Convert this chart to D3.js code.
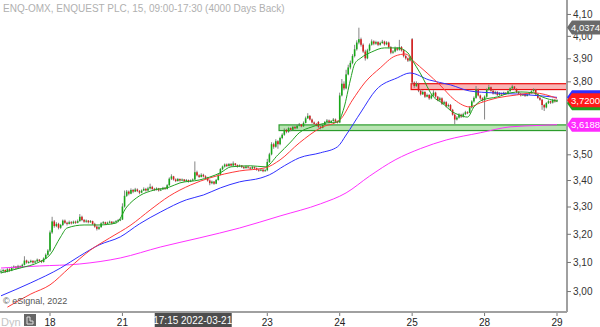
<!DOCTYPE html>
<html>
<head>
<meta charset="utf-8">
<script src="https://cdn.jsdelivr.net/npm/d3@7"></script>
<style>
body { margin: 0; background: #fff; }
svg { display: block; font-family: Arial, "Liberation Sans", sans-serif; }
</style>
</head>
<body>
<div id="chart-area"></div>
<script>
// trading days shown, with how many 15 min bars of each are visible
const dayLabels = ['17', '18', '21', '22', '23', '24', '25', '28', '29'];
const dayBars = [23, 34, 34, 34, 34, 34, 34, 34, 1];

// bars as [open, high, low, close] in thousandths
const day17 = [[3064,3074,3060,3068],[3068,3076,3064,3072],[3072,3074,3062,3066],[3066,3079,3064,3075],[3075,3078,3066,3070],
  [3070,3084,3068,3080],[3080,3088,3076,3084],[3084,3086,3074,3078],[3078,3090,3076,3086],[3086,3088,3078,3082],
  [3082,3094,3080,3090],[3090,3120,3088,3105],[3105,3108,3094,3098],[3098,3104,3094,3100],[3100,3108,3096,3104],
  [3104,3106,3094,3098],[3098,3106,3096,3102],[3102,3112,3100,3108],[3108,3110,3100,3104],[3104,3106,3096,3100],
  [3100,3116,3098,3112],[3112,3130,3110,3125],[3125,3145,3122,3140]];
const day18 = [[3140,3212,3135,3205],[3205,3262,3200,3245],[3245,3250,3222,3228],[3228,3242,3224,3236],[3236,3240,3216,3222],
  [3222,3236,3218,3232],[3232,3252,3228,3248],[3248,3252,3236,3240],[3240,3244,3230,3236],[3236,3248,3234,3242],
  [3242,3246,3234,3238],[3238,3248,3236,3244],[3244,3248,3236,3240],[3240,3252,3238,3246],[3246,3272,3244,3262],
  [3262,3266,3246,3250],[3250,3254,3240,3244],[3244,3252,3240,3248],[3248,3250,3238,3242],[3242,3250,3240,3246],
  [3246,3248,3232,3236],[3236,3240,3222,3226],[3226,3230,3212,3218],[3218,3228,3214,3224],[3224,3242,3222,3238],
  [3238,3246,3234,3242],[3242,3244,3232,3236],[3236,3244,3234,3240],[3240,3248,3238,3244],[3244,3246,3234,3238],
  [3238,3246,3236,3242],[3242,3250,3240,3246],[3246,3254,3242,3250],[3250,3256,3246,3252]];
const day21 = [[3252,3312,3250,3300],[3300,3360,3296,3340],[3340,3362,3336,3356],[3356,3360,3342,3348],[3348,3368,3346,3362],
  [3362,3366,3350,3356],[3356,3370,3354,3364],[3364,3368,3354,3358],[3358,3362,3346,3352],[3352,3364,3350,3360],
  [3360,3372,3358,3366],[3366,3370,3356,3360],[3360,3374,3358,3368],[3368,3386,3364,3374],[3374,3378,3362,3366],
  [3366,3370,3358,3362],[3362,3372,3360,3368],[3368,3370,3356,3360],[3360,3368,3358,3364],[3364,3374,3362,3370],
  [3370,3372,3362,3366],[3366,3384,3364,3380],[3380,3410,3378,3405],[3405,3422,3400,3414],[3414,3416,3398,3402],
  [3402,3406,3392,3396],[3396,3408,3394,3404],[3404,3406,3394,3398],[3398,3406,3396,3402],[3402,3404,3392,3396],
  [3396,3404,3394,3400],[3400,3402,3390,3394],[3394,3402,3392,3398],[3398,3406,3396,3402]];
const day22 = [[3402,3472,3400,3430],[3430,3436,3414,3418],[3418,3422,3408,3412],[3412,3426,3410,3420],[3420,3424,3410,3414],
  [3414,3418,3404,3408],[3408,3412,3394,3398],[3398,3402,3380,3388],[3388,3398,3384,3394],[3394,3396,3382,3386],
  [3386,3404,3384,3400],[3400,3424,3398,3420],[3420,3446,3418,3442],[3442,3456,3438,3452],[3452,3464,3448,3460],
  [3460,3464,3450,3454],[3454,3466,3452,3462],[3462,3466,3452,3456],[3456,3472,3454,3464],[3464,3466,3454,3458],
  [3458,3460,3448,3452],[3452,3460,3450,3456],[3456,3458,3446,3450],[3450,3454,3442,3446],[3446,3456,3444,3452],
  [3452,3454,3444,3448],[3448,3450,3440,3444],[3444,3454,3442,3450],[3450,3452,3442,3446],[3446,3448,3436,3440],
  [3440,3444,3432,3436],[3436,3444,3434,3440],[3440,3442,3430,3434],[3434,3442,3432,3438]];
const day23 = [[3438,3482,3434,3470],[3470,3506,3466,3500],[3500,3548,3496,3540],[3540,3546,3522,3530],[3530,3560,3526,3552],
  [3552,3556,3522,3540],[3540,3570,3536,3565],[3565,3584,3560,3578],[3578,3604,3574,3598],[3598,3602,3584,3590],
  [3590,3610,3586,3605],[3605,3608,3592,3598],[3598,3614,3596,3610],[3610,3614,3600,3604],[3604,3620,3602,3615],
  [3615,3626,3612,3620],[3620,3622,3608,3612],[3612,3632,3610,3626],[3626,3652,3624,3645],[3645,3666,3642,3655],
  [3655,3658,3636,3640],[3640,3644,3624,3628],[3628,3632,3618,3622],[3622,3626,3612,3616],[3630,3634,3604,3610],
  [3610,3616,3600,3606],[3606,3622,3604,3618],[3618,3634,3616,3630],[3630,3642,3626,3636],[3636,3640,3624,3628],
  [3628,3638,3626,3634],[3634,3646,3632,3640],[3640,3644,3628,3632],[3632,3636,3624,3628]];
const day24 = [[3628,3752,3625,3740],[3740,3810,3736,3790],[3790,3800,3762,3770],[3770,3850,3766,3830],[3830,3872,3826,3860],
  [3860,3890,3852,3880],[3880,3918,3874,3910],[3910,3960,3904,3940],[3940,3980,3934,3970],[3970,4037,3962,3985],
  [3985,3992,3952,3960],[3960,3966,3924,3930],[3930,3938,3890,3900],[3900,3942,3896,3935],[3935,3966,3930,3960],
  [3960,3984,3956,3975],[3975,3980,3958,3965],[3965,3978,3960,3972],[3972,3976,3954,3960],[3960,3974,3956,3968],
  [3968,3982,3964,3974],[3974,3978,3956,3962],[3962,3976,3958,3970],[3970,3974,3944,3950],[3950,3954,3918,3925],
  [3925,3936,3920,3930],[3930,3952,3926,3945],[3945,3950,3932,3938],[3938,3982,3934,3950],[3950,3954,3930,3935],
  [3935,3940,3904,3910],[3910,3916,3894,3900],[3900,3904,3884,3890],[3890,3910,3886,3905]];
const day25 = [[3985,3990,3790,3795],[3795,3800,3772,3780],[3780,3800,3776,3790],[3790,3794,3754,3760],[3760,3766,3740,3745],
  [3745,3762,3742,3755],[3755,3758,3730,3735],[3735,3748,3732,3742],[3742,3746,3722,3728],[3728,3746,3724,3740],
  [3740,3762,3736,3752],[3752,3756,3730,3735],[3735,3738,3716,3720],[3720,3734,3716,3728],[3728,3732,3700,3705],
  [3705,3718,3702,3712],[3712,3716,3690,3695],[3695,3706,3690,3700],[3700,3704,3676,3680],[3680,3684,3656,3660],
  [3660,3664,3620,3640],[3640,3654,3636,3648],[3648,3666,3644,3660],[3660,3664,3646,3652],[3652,3668,3648,3662],
  [3662,3676,3658,3670],[3670,3674,3662,3668],[3668,3696,3666,3690],[3690,3720,3686,3715],[3715,3736,3710,3730],
  [3730,3780,3726,3765],[3765,3770,3736,3740],[3740,3744,3722,3728],[3728,3732,3714,3720]];
const day28 = [[3720,3740,3640,3735],[3735,3770,3730,3765],[3765,3786,3760,3775],[3775,3778,3756,3760],[3760,3764,3744,3748],
  [3748,3760,3744,3755],[3755,3758,3738,3742],[3742,3754,3740,3750],[3750,3752,3740,3745],[3745,3756,3742,3752],
  [3752,3754,3742,3746],[3746,3762,3744,3758],[3758,3774,3756,3770],[3770,3786,3766,3778],[3778,3780,3764,3768],
  [3768,3770,3750,3755],[3755,3758,3744,3748],[3748,3752,3736,3740],[3740,3750,3738,3745],[3745,3748,3734,3738],
  [3738,3748,3736,3744],[3744,3754,3742,3750],[3750,3762,3748,3758],[3758,3770,3756,3765],[3765,3768,3740,3745],
  [3745,3748,3726,3730],[3730,3734,3718,3722],[3722,3726,3680,3700],[3700,3704,3675,3690],[3690,3712,3686,3708],
  [3708,3720,3704,3716],[3716,3718,3704,3710],[3710,3726,3706,3722],[3722,3726,3710,3715]];
const day29 = [[3715,3724,3712,3720]];

// moving averages: [bar index, price]
const maGreen = [[0,3.062],[9,3.079],[18,3.100],[23,3.125],[28,3.189],[31,3.221],[39,3.232],[46,3.232],[54,3.239],
  [59,3.298],[65,3.340],[72,3.362],[79,3.373],[84,3.389],[93,3.400],[103,3.428],[108,3.451],[117,3.455],[124,3.451],
  [130,3.498],[136,3.549],[140,3.586],[146,3.610],[153,3.626],[158,3.630],[161,3.688],[164,3.806],[166,3.875],
  [169,3.902],[174,3.928],[180,3.946],[186,3.946],[191,3.924],[193,3.893],[197,3.832],[203,3.734],[207,3.709],
  [212,3.671],[215,3.659],[219,3.650],[222,3.692],[226,3.721],[233,3.734],[239,3.751],[244,3.755],[250,3.751],
  [254,3.734],[261,3.716]];
const maRed = [[3,2.946],[14,2.990],[23,3.021],[32,3.079],[42,3.142],[51,3.185],[61,3.232],[70,3.287],[79,3.339],
  [89,3.381],[98,3.408],[112,3.435],[124,3.447],[131,3.478],[140,3.545],[150,3.606],[159,3.638],[165,3.721],
  [171,3.797],[178,3.858],[185,3.910],[190,3.919],[193,3.893],[200,3.836],[206,3.785],[213,3.721],[220,3.692],
  [225,3.709],[233,3.730],[242,3.742],[250,3.751],[261,3.728]];
const maBlue = [[0,2.984],[14,3.028],[28,3.079],[37,3.121],[46,3.160],[56,3.189],[65,3.236],[75,3.280],[87,3.325],
  [95,3.343],[103,3.370],[112,3.393],[122,3.408],[126,3.420],[133,3.455],[140,3.486],[150,3.506],[158,3.530],
  [162,3.577],[169,3.671],[176,3.763],[186,3.815],[192,3.836],[201,3.806],[211,3.785],[220,3.759],[231,3.751],
  [242,3.746],[254,3.738],[261,3.732]];
const maMagenta = [[0,3.079],[18,3.086],[37,3.093],[56,3.114],[75,3.153],[93,3.185],[112,3.221],[131,3.265],
  [150,3.310],[162,3.351],[173,3.415],[185,3.478],[197,3.523],[209,3.557],[225,3.586],[239,3.610],[253,3.616],[261,3.619]];

// zones: [first bar, low, high]
const resistZone = [193, 3.765, 3.790];
const supportZone = [131, 3.595, 3.618];

const priceTicks = [3.0, 3.1, 3.2, 3.3, 3.4, 3.5, 3.6, 3.7, 3.8, 3.9, 4.0, 4.1];
// right side value tags: [price, text, colour]; tags without text sit behind the last price tag
const tags = [[4.0374, '4,0374', '#6a6a6a'], [3.7320, '', '#2f2fff'], [3.7140, '', '#1f9f1f'],
  [3.7200, '3,7200', '#ff1a1a'], [3.6188, '3,6188', '#ff2bff']];
const cursorBar = 90;
const cursorText = '17:15 2022-03-21';

const width = 600, height = 327;
const plotRight = 567, plotBottom = 312;

const bars = [].concat(day17, day18, day21, day22, day23, day24, day25, day28, day29)
  .map((d, i) => ({ i: i, o: d[0] / 1000, h: d[1] / 1000, l: d[2] / 1000, c: d[3] / 1000 }));

const dayStarts = [];
let n = 0;
dayBars.forEach((b, k) => { dayStarts.push({ label: dayLabels[k], i: n }); n += b; });

const x = d3.scaleLinear().domain([23, 261]).range([50, 557]);
const y = d3.scaleLog().domain([2.930, 4.165]).range([plotBottom, 0]);

const svg = d3.select('#chart-area').append('svg')
  .attr('width', width)
  .attr('height', height);

svg.append('defs').append('clipPath').attr('id', 'plot')
  .append('rect').attr('x', 0).attr('y', 0).attr('width', plotRight).attr('height', plotBottom);

const plot = svg.append('g').attr('clip-path', 'url(#plot)');

// zones
[[resistZone, '#f8b6b6', '#e81010'], [supportZone, '#b8e4b2', '#2c9c2c']].forEach(z => {
  const [from, lo, hi] = z[0];
  plot.append('rect')
    .attr('x', x(from) - 1)
    .attr('y', y(hi))
    .attr('width', plotRight - x(from) + 1)
    .attr('height', y(lo) - y(hi))
    .attr('fill', z[1])
    .attr('stroke', z[2])
    .attr('stroke-width', 1.2);
});

// candles
const candle = plot.append('g').selectAll('g').data(bars).enter().append('g');
candle.append('line')
  .attr('x1', d => x(d.i)).attr('x2', d => x(d.i))
  .attr('y1', d => y(d.h)).attr('y2', d => y(d.l))
  .attr('stroke', '#858585').attr('stroke-width', 1);
candle.append('rect')
  .attr('x', d => x(d.i) - 0.8)
  .attr('width', 1.6)
  .attr('y', d => y(Math.max(d.o, d.c)))
  .attr('height', d => Math.max(1, Math.abs(y(d.o) - y(d.c))))
  .attr('fill', d => d.c >= d.o ? '#18a818' : '#d81e1e');

// moving averages
const line = d3.line().x(d => x(d[0])).y(d => y(d[1])).curve(d3.curveMonotoneX);
[[maMagenta, '#ff30ff'], [maBlue, '#3030ff'], [maRed, '#ff3a3a'], [maGreen, '#22a022']].forEach(m => {
  plot.append('path')
    .attr('d', line(m[0]))
    .attr('fill', 'none')
    .attr('stroke', m[1])
    .attr('stroke-width', 1);
});

// right price axis; ticks sitting under a value tag are left out
const tagged = tags.filter(t => t[1]).map(t => y(t[0]));
const yAxis = svg.append('g')
  .attr('transform', `translate(${plotRight}, 0)`)
  .call(d3.axisRight(y)
    .tickValues(priceTicks.filter(p => !tagged.some(ty => Math.abs(ty - y(p)) < 6)))
    .tickSize(4).tickPadding(2)
    .tickFormat(d => d.toFixed(2).replace('.', ',')));
yAxis.select('.domain').attr('stroke', '#a0a0a0').attr('stroke-width', 2)
  .attr('d', `M0,0V${plotBottom}`);
yAxis.selectAll('.tick line').attr('stroke', '#777');
yAxis.selectAll('.tick text').attr('fill', '#333').style('font-size', '10px');

// bottom time axis
const cx = x(cursorBar);
const xAxis = svg.append('g').attr('transform', `translate(0, ${plotBottom})`);
xAxis.append('line').attr('x1', 0).attr('x2', plotRight).attr('y1', 0).attr('y2', 0)
  .attr('stroke', '#a0a0a0').attr('stroke-width', 2);
const ticks = dayStarts.filter(d => d.i > 0);
xAxis.selectAll('.tk').data(ticks).enter().append('line')
  .attr('x1', d => x(d.i)).attr('x2', d => x(d.i))
  .attr('y1', 1).attr('y2', 4)
  .attr('stroke', '#777');
// the day label under the cursor tag is hidden, as in the chart
xAxis.selectAll('.lb').data(ticks.filter(d => Math.abs(x(d.i) - cx) > 40)).enter().append('text')
  .attr('x', d => x(d.i)).attr('y', 14)
  .attr('text-anchor', 'middle')
  .attr('fill', '#222')
  .style('font-size', '10px')
  .text(d => d.label);

// cursor time tag
svg.append('rect').attr('x', cx - 38).attr('y', plotBottom + 1).attr('width', 77).attr('height', 14)
  .attr('fill', '#4d4d4d');
svg.append('text').attr('x', cx).attr('y', plotBottom + 12).attr('text-anchor', 'middle')
  .attr('fill', '#fff').style('font-size', '10px').text(cursorText);

// value tags on the right
tags.forEach(t => {
  let cy = y(t[0]);
  if (t[1] === '' && t[0] > 3.72) cy = y(3.72) - 3;
  if (t[1] === '' && t[0] < 3.72) cy = y(3.72) + 3;
  svg.append('path')
    .attr('d', `M${plotRight},${cy}L${plotRight + 5},${cy - 7}H${width}V${cy + 7}H${plotRight + 5}Z`)
    .attr('fill', t[2]);
  if (t[1]) {
    svg.append('text').attr('x', plotRight + 4).attr('y', cy + 3.5)
      .attr('fill', '#fff').style('font-size', '9.5px').text(t[1]);
  }
});

// texts
svg.append('text').attr('x', 3).attr('y', 12).attr('fill', '#b0b0b0').style('font-size', '10px')
  .text('ENQ-OMX, ENQUEST PLC, 15, 09:00-17:30 (4000 Days Back)');
svg.append('text').attr('x', 3).attr('y', 304).attr('fill', '#555').style('font-size', '9px')
  .text('© eSignal, 2022');
svg.append('text').attr('x', 1).attr('y', 326).attr('fill', '#c4c4c4').style('font-size', '11px')
  .text('Dyn');
svg.append('rect').attr('x', 24).attr('y', 314).attr('width', 12).attr('height', 12).attr('fill', '#666');
svg.append('path').attr('d', 'M27,324V317H30V321H33V324Z').attr('fill', 'none').attr('stroke', '#ddd').attr('stroke-width', 1);
</script>
</body>
</html>
